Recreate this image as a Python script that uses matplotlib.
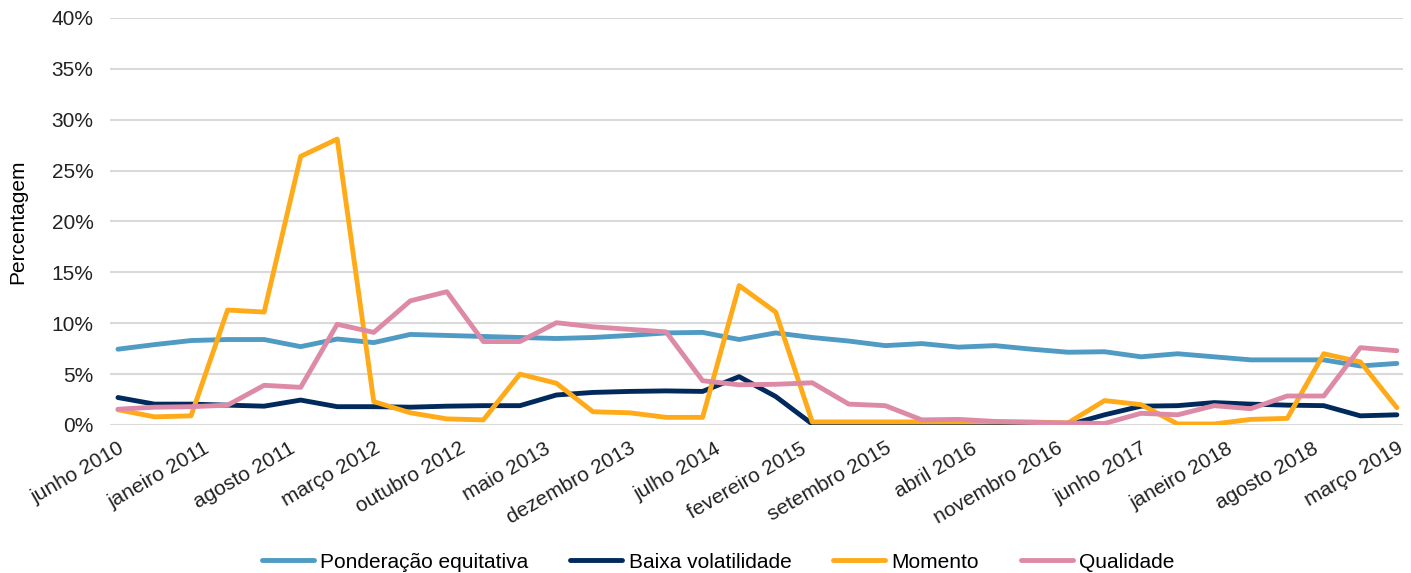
import numpy as np
import matplotlib.pyplot as plt

plt.rcParams['font.family'] = ['Liberation Sans', 'DejaVu Sans']

# Quarterly observations, June 2010 .. March 2019 (values in %)
ponderacao = [7.45, 7.9, 8.3, 8.4, 8.4, 7.7, 8.45, 8.1, 8.9, 8.8,
              8.7, 8.6, 8.5, 8.6, 8.8, 9.05, 9.1, 8.4, 9.05, 8.6,
              8.25, 7.8, 8.0, 7.65, 7.8, 7.45, 7.15, 7.2, 6.7, 7.0,
              6.7, 6.4, 6.4, 6.4, 5.8, 6.05]
baixa_vol = [2.7, 2.05, 2.05, 1.95, 1.85, 2.45, 1.8, 1.8, 1.75, 1.85,
             1.9, 1.9, 2.95, 3.2, 3.3, 3.35, 3.3, 4.75, 2.8, 0.1,
             0.0, 0.05, 0.1, 0.1, 0.0, 0.0, 0.0, 1.0, 1.85, 1.9,
             2.2, 2.05, 1.95, 1.9, 0.9, 1.0]
momento = [1.5, 0.8, 0.9, 11.3, 11.1, 26.4, 28.1, 2.3, 1.2, 0.6,
           0.5, 5.0, 4.1, 1.3, 1.2, 0.75, 0.75, 13.7, 11.1, 0.3,
           0.3, 0.3, 0.3, 0.3, 0.3, 0.3, 0.2, 2.4, 2.0, 0.1,
           0.1, 0.55, 0.65, 7.0, 6.2, 1.7]
qualidade = [1.55, 1.75, 1.8, 1.95, 3.9, 3.7, 9.9, 9.1, 12.2, 13.1,
             8.2, 8.2, 10.05, 9.65, 9.4, 9.15, 4.35, 3.95, 4.0, 4.15,
             2.05, 1.9, 0.5, 0.55, 0.35, 0.25, 0.2, 0.15, 1.15, 1.0,
             1.9, 1.6, 2.85, 2.85, 7.6, 7.3]

tick_labels = ['junho 2010', 'janeiro 2011', 'agosto 2011', 'março 2012',
               'outubro 2012', 'maio 2013', 'dezembro 2013', 'julho 2014',
               'fevereiro 2015', 'setembro 2015', 'abril 2016',
               'novembro 2016', 'junho 2017', 'janeiro 2018',
               'agosto 2018', 'março 2019']

series = [('Ponderação equitativa', ponderacao, '#509bc3'),
          ('Baixa volatilidade', baixa_vol, '#00295c'),
          ('Momento', momento, '#ffab19'),
          ('Qualidade', qualidade, '#dd8aa6')]

# months since June 2010
x = np.arange(len(ponderacao)) * 3

fig = plt.figure(figsize=(14.11, 5.73), dpi=100)
ax = fig.add_axes([0.078, 0.2583, 0.9163, 0.7103])

for name, vals, col in series:
    ax.plot(x, vals, color=col, lw=3.5, label=name,
            solid_joinstyle='round', solid_capstyle='round')

ax.set_ylim(0, 40)
ax.set_xlim(-0.65, 105.5)
ax.set_yticks(np.arange(0, 41, 5))
ax.set_yticklabels([f'{v}%' for v in range(0, 41, 5)], fontsize=15, color='#222222')
ax.set_xticks(np.arange(0, 106, 7))
ax.set_xticklabels(tick_labels, rotation=30, ha='right', rotation_mode='anchor',
                   fontsize=15, color='#222222')
ax.tick_params(axis='y', length=0, pad=12)
ax.tick_params(axis='x', length=0, pad=10)
ax.grid(axis='y', color='#d9d9d9', lw=1.5)
ax.set_axisbelow(True)
for s in ax.spines.values():
    s.set_visible(False)

ax.set_ylabel('Percentagem', fontsize=15)
ax.yaxis.set_label_coords(-0.064, 0.5)

fig.legend(loc='center', bbox_to_anchor=(0.509, 0.019), ncol=4, frameon=False,
           fontsize=15, handlelength=2.5, handletextpad=0.3, columnspacing=2.0)

fig.savefig('out.png', dpi=100)
